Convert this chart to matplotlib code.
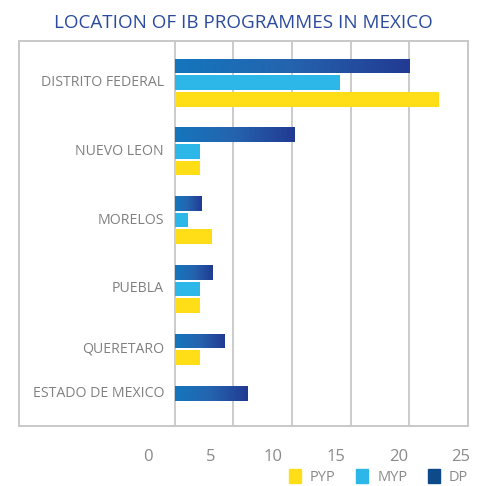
import numpy as np
import matplotlib
matplotlib.use("Agg")
import matplotlib.pyplot as plt
from matplotlib.colors import LinearSegmentedColormap
from matplotlib.patches import Patch

plt.rcParams['font.family'] = ['Open Sans', 'DejaVu Sans']

# data
states = ["DISTRITO FEDERAL", "NUEVO LEON", "MORELOS", "PUEBLA",
          "QUERETARO", "ESTADO DE MEXICO"]
dp = [20.0, 10.2, 2.3, 3.2, 4.2, 6.2]
myp = [14.1, 2.2, 1.1, 2.2, 0, 0]
pyp = [22.5, 2.2, 3.2, 2.2, 2.2, 0]
xticks = [0, 5, 10, 15, 20, 25]

c_pyp = "#ffdd17"
c_myp = "#2cb7e8"
c_dp = "#0d4a8a"
grad = LinearSegmentedColormap.from_list("dp", ["#1476bd", "#2563ae", "#213a92"])
grey = "#c8c8c8"

fig = plt.figure(figsize=(4.78, 4.86), dpi=100)
ax = fig.add_axes([19 / 478, 1 - 425.7 / 486, 449 / 478, (425.7 - 41) / 486])

bar_h = 0.885
gap = 1.14
y = 0.0
centers = []
for i, name in enumerate(states):
    ys = []
    for val, kind in ((dp[i], "dp"), (myp[i], "myp"), (pyp[i], "pyp")):
        if val <= 0:
            continue
        if kind == "dp":
            b = ax.barh(y, val, height=bar_h, color="none", lw=0)[0]
            img = ax.imshow(np.linspace(0, 1, 256).reshape(1, -1), cmap=grad,
                            aspect="auto", interpolation="bilinear",
                            extent=[0, val, y + bar_h / 2, y - bar_h / 2], zorder=3)
            img.set_clip_path(b)
        else:
            ax.barh(y, val, height=bar_h, color=c_myp if kind == "myp" else c_pyp,
                    lw=0, zorder=3)
        ys.append(y)
        y += 1
    centers.append(np.mean(ys))
    y += gap

ax.set_xlim(-13.26, 25)
ax.set_ylim(y - gap - 1 + 1.95, -1.5)

for g in xticks[:-1]:
    ax.axvline(g, color="#bdbdbd", lw=1.1, zorder=1)

for name, c in zip(states, centers):
    ax.text(-0.9, c, name, ha="right", va="center", fontsize=10.2, color="#808080")

ax.set_xticks([])
ax.set_yticks([])
for s in ax.spines.values():
    s.set_color(grey)
    s.set_linewidth(1.4)

# tick labels sit on their own (offset) scale in the original
ax2 = fig.add_axes([148.3 / 478, 1 - 425.7 / 486, 312.4 / 478, 0.0001])
ax2.set_xlim(0, 25)
ax2.set_xticks(xticks)
ax2.set_xticklabels([str(t) for t in xticks], fontsize=12, color="#8a8a8a")
ax2.tick_params(axis="x", length=0, pad=17)
ax2.set_yticks([])
for s in ax2.spines.values():
    s.set_visible(False)
ax2.patch.set_alpha(0)

fig.text(243 / 478, 1 - 22.5 / 486, "LOCATION OF IB PROGRAMMES IN MEXICO",
         ha="center", va="center", fontsize=13.6, color="#2b4b9f")

handles = [Patch(color=c_pyp, label="PYP"), Patch(color=c_myp, label="MYP"),
           Patch(color=c_dp, label="DP")]
leg = fig.legend(handles=handles, loc="center right", ncol=3, frameon=False,
                 bbox_to_anchor=(474 / 478, 1 - 477 / 486), fontsize=10.5,
                 handlelength=0.85, handleheight=1.1, handletextpad=0.6,
                 columnspacing=1.4, borderaxespad=0)
for t in leg.get_texts():
    t.set_color("#8a8a8a")

fig.savefig("out.png", dpi=100)
